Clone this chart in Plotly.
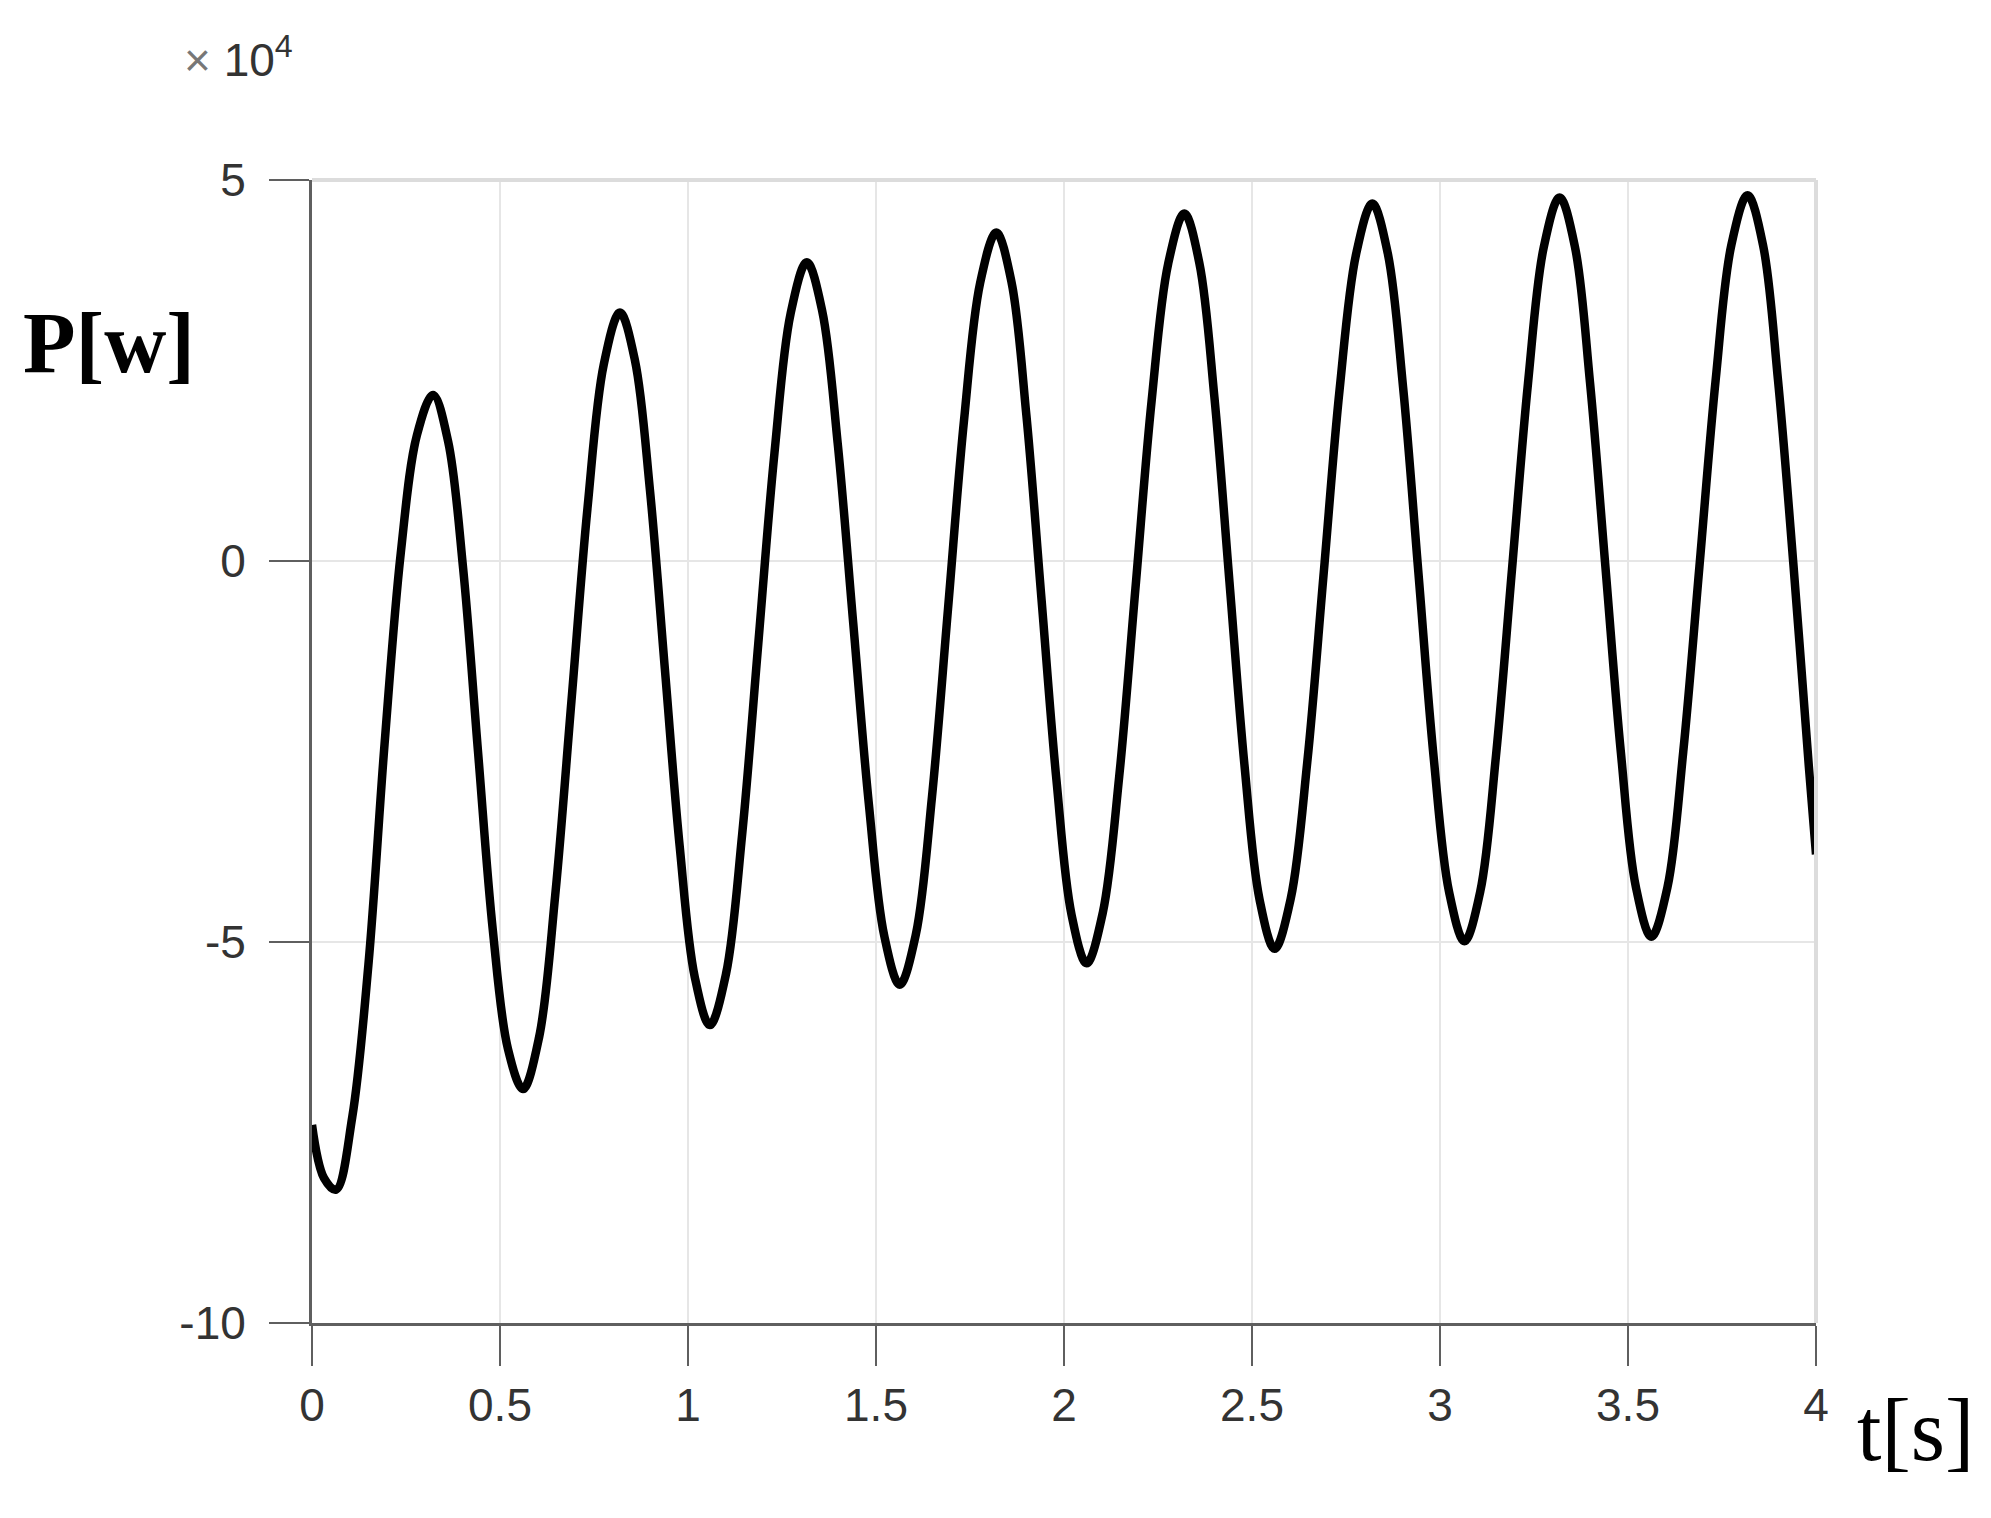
import plotly.graph_objects as go

# time [s] and power [W]
t_s = [0.000, 0.032, 0.064, 0.107, 0.150, 0.193, 0.236, 0.279,
       0.322, 0.362, 0.402, 0.4415, 0.481, 0.521,
       0.561, 0.604, 0.647, 0.690, 0.733, 0.776,
       0.819, 0.859, 0.899, 0.9385, 0.978, 1.018,
       1.058, 1.101, 1.144, 1.187, 1.230, 1.273,
       1.316, 1.357, 1.398, 1.4395, 1.481, 1.522,
       1.563, 1.606, 1.649, 1.6915, 1.734, 1.777,
       1.820, 1.860, 1.900, 1.940, 1.980, 2.020,
       2.060, 2.103, 2.147, 2.190, 2.233, 2.277,
       2.320, 2.360, 2.400, 2.440, 2.480, 2.520,
       2.560, 2.603, 2.647, 2.690, 2.733, 2.777,
       2.820, 2.861, 2.902, 2.9425, 2.983, 3.024,
       3.065, 3.107, 3.149, 3.1915, 3.234, 3.276,
       3.318, 3.359, 3.399, 3.440, 3.481, 3.521,
       3.562, 3.605, 3.647, 3.690, 3.733, 3.775,
       3.818, 3.859, 3.899, 3.940, 3.981, 4.000]
p_w = [-74000, -81000, -82500, -73000, -53000, -24000, 1000, 16500,
       21800, 15700, -1000, -25000, -48500, -64000,
       -69300, -62500, -43800, -18400, 7100, 25800,
       32600, 26300, 9200, -14200, -37500, -54600,
       -60900, -54200, -35900, -10800, 14200, 32500,
       39200, 32800, 15500, -8200, -31900, -49200,
       -55600, -49000, -30900, -6300, 18400, 36500,
       43100, 36700, 19100, -4900, -28800, -46400,
       -52800, -46200, -28200, -3600, 21000, 39000,
       45600, 39100, 21500, -2700, -26800, -44400,
       -50900, -44300, -26400, -2000, 22500, 40300,
       46900, 40400, 22700, -1500, -25700, -43400,
       -49900, -43400, -25500, -1100, 23300, 41200,
       47700, 41200, 23400, -800, -25100, -42800,
       -49300, -42800, -25000, -700, 23700, 41500,
       48000, 41500, 23700, -500, -27000, -38500]

x_ticks = [0, 0.5, 1, 1.5, 2, 2.5, 3, 3.5, 4]
x_tick_text = ["0", "0.5", "1", "1.5", "2", "2.5", "3", "3.5", "4"]
y_ticks = [-10, -5, 0, 5]
y_tick_text = ["-10", "-5", "0", "5"]
scale = 1e4

fig = go.Figure()
fig.add_trace(go.Scatter(
    x=t_s, y=[p / scale for p in p_w],
    mode="lines",
    line=dict(color="#000000", width=8.5, shape="spline", smoothing=1.0),
    showlegend=False
))

axis_font = dict(family="Liberation Sans, Arial, sans-serif", size=46, color="#333333")

fig.update_layout(
    width=1991, height=1518,
    margin=dict(l=304, r=183, t=172, b=203),
    paper_bgcolor="white", plot_bgcolor="white",
    xaxis=dict(
        range=[0, 4], tickvals=x_ticks, ticktext=x_tick_text,
        showgrid=True, gridcolor="#e6e6e6", gridwidth=2,
        showline=True, linecolor="#5f5f5f", linewidth=3,
        ticks="outside", ticklen=40, tickwidth=2, tickcolor="#5f5f5f",
        ticklabelstandoff=0, tickfont=axis_font, zeroline=False
    ),
    yaxis=dict(
        range=[-10, 5], tickvals=y_ticks, ticktext=y_tick_text,
        showgrid=True, gridcolor="#e6e6e6", gridwidth=2,
        showline=True, linecolor="#5f5f5f", linewidth=3,
        ticks="outside", ticklen=40, tickwidth=2, tickcolor="#5f5f5f",
        ticklabelstandoff=14, tickfont=axis_font, zeroline=False
    ),
)

# light box on top and right
fig.add_shape(type="line", xref="paper", yref="paper", x0=0, x1=1, y0=1, y1=1,
              line=dict(color="#dcdcdc", width=4))
fig.add_shape(type="line", xref="paper", yref="paper", x0=1, x1=1, y0=0, y1=1,
              line=dict(color="#dcdcdc", width=4))

fig.add_annotation(text='<span style="color:#777777">×</span> 10<sup>4</sup>',
                   xref="paper", yref="paper",
                   x=-0.011, y=1.108, xanchor="right", yanchor="middle",
                   showarrow=False,
                   font=dict(family="Liberation Sans, Arial, sans-serif", size=46, color="#333333"))
fig.add_annotation(text="<b>P[w]</b>", xref="paper", yref="paper",
                   x=-0.135, y=0.857, xanchor="center", yanchor="middle",
                   showarrow=False,
                   font=dict(family="Liberation Serif, Times New Roman, serif", size=86, color="#000000"))
fig.add_annotation(text="t[s]", xref="paper", yref="paper",
                   x=1.066, y=-0.094, xanchor="center", yanchor="middle",
                   showarrow=False,
                   font=dict(family="Liberation Serif, Times New Roman, serif", size=88, color="#000000"))

fig.write_html("out.html")
